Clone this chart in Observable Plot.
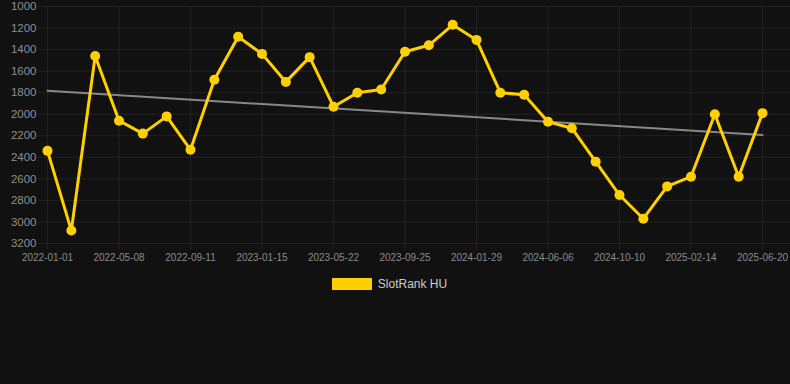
<!DOCTYPE html>
<html>
<head>
<meta charset="utf-8">
<script src="https://cdn.jsdelivr.net/npm/d3@7"></script>
<script src="https://cdn.jsdelivr.net/npm/@observablehq/plot@0.6"></script>
<style>
  html, body { margin: 0; padding: 0; background: #111111; }
  body { width: 790px; height: 384px; overflow: hidden; font-family: "Liberation Sans", Arial, sans-serif; }
  #legend { display: flex; justify-content: center; align-items: center; margin-top: 9px; margin-left: -11px; }
  #legend .sw { width: 40px; height: 12px; background: #FFD000; margin-right: 6px; }
  #legend .lb { font-size: 12px; color: #cccccc; }
</style>
</head>
<body>
<div id="chart"></div>
<div id="legend"><div class="sw"></div><div class="lb">SlotRank HU</div></div>
<script>
const dates = [
  "2022-01-01","2022-02-12","2022-03-26","2022-05-08","2022-06-19","2022-07-31",
  "2022-09-11","2022-10-23","2022-12-04","2023-01-15","2023-02-26","2023-04-09",
  "2023-05-22","2023-07-03","2023-08-14","2023-09-25","2023-11-06","2023-12-18",
  "2024-01-29","2024-03-11","2024-04-22","2024-06-06","2024-07-18","2024-08-29",
  "2024-10-10","2024-11-21","2025-01-02","2025-02-14","2025-03-28","2025-05-09",
  "2025-06-20"
];
const ranks = [
  2340, 3080, 1460, 2060, 2180, 2020,
  2330, 1680, 1280, 1440, 1700, 1470,
  1930, 1800, 1770, 1420, 1360, 1170,
  1310, 1800, 1820, 2070, 2130, 2440,
  2750, 2970, 2670, 2580, 2000, 2580,
  1990
];
const tickDates = ["2022-01-01","2022-05-08","2022-09-11","2023-01-15","2023-05-22","2023-09-25","2024-01-29","2024-06-06","2024-10-10","2025-02-14","2025-06-20"];
const yTicks = [1000,1200,1400,1600,1800,2000,2200,2400,2600,2800,3000,3200];
const seriesName = "SlotRank HU";

const data = dates.map((d, i) => ({i, date: d, rank: ranks[i]}));
const tickIdx = tickDates.map(d => dates.indexOf(d));
const gold = "#FFD000";
const gridColor = "rgba(255,255,255,0.07)";

const chart = Plot.plot({
  width: 790,
  height: 268,
  marginTop: 6,
  marginBottom: 25,
  marginLeft: 38,
  marginRight: 0,
  style: {background: "transparent", color: "#8a8a8a", fontFamily: "'Liberation Sans', Arial, sans-serif", fontSize: "10px"},
  x: {type: "linear", domain: [-0.378, 31.175]},
  y: {domain: [1000, 3200], reverse: true},
  marks: [
    Plot.gridY(yTicks, {stroke: gridColor, strokeOpacity: 1}),
    Plot.gridX(tickIdx, {stroke: gridColor, strokeOpacity: 1}),
    Plot.axisX(tickIdx, {tickFormat: i => dates[i], tickSize: 7, tickPadding: 3, stroke: gridColor, label: null, fontSize: 10}),
    Plot.axisY(yTicks, {tickFormat: d => String(d), tickSize: 0, tickPadding: 2, label: null, fontSize: 11.5, fill: "#8f8f8f"}),
    Plot.linearRegressionY(data, {x: "i", y: "rank", stroke: "#888888", strokeWidth: 2, ci: 0}),
    Plot.line(data, {x: "i", y: "rank", stroke: gold, strokeWidth: 3}),
    Plot.dot(data, {x: "i", y: "rank", r: 5, fill: gold, stroke: "none", title: d => `${d.date}: ${d.rank}`})
  ]
});
document.getElementById("chart").appendChild(chart);
</script>
</body>
</html>
